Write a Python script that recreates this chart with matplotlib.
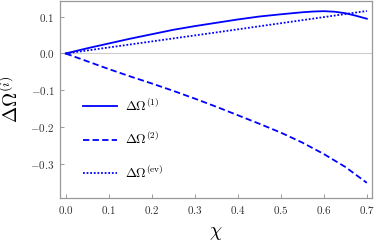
import matplotlib
matplotlib.use("Agg")
import matplotlib.pyplot as plt
from matplotlib.ticker import FuncFormatter

plt.rcParams['mathtext.fontset'] = 'cm'
plt.rcParams['font.family'] = 'DejaVu Serif'

chi = [0.0, 0.05, 0.1, 0.15, 0.2, 0.25, 0.3, 0.35, 0.4, 0.45, 0.5, 0.55, 0.575, 0.6, 0.625, 0.65, 0.675, 0.7]
d_omega_1 = [0.0, 0.014, 0.027, 0.040, 0.052, 0.064, 0.074, 0.083, 0.092, 0.100, 0.106, 0.1115, 0.1135, 0.1145, 0.113, 0.109, 0.102, 0.094]
chi_2 = [0.0, 0.05, 0.1, 0.15, 0.2, 0.25, 0.3, 0.35, 0.4, 0.45, 0.5, 0.55, 0.6, 0.65, 0.7]
d_omega_2 = [0.0, -0.021, -0.042, -0.062, -0.081, -0.101, -0.122, -0.144, -0.167, -0.190, -0.214, -0.241, -0.272, -0.307, -0.350]
chi_ev = [0.0, 0.35, 0.7]
d_omega_ev = [0.0, 0.057, 0.115]

labels = [r'$\Delta\Omega^{(1)}$', r'$\Delta\Omega^{(2)}$', r'$\Delta\Omega^{(\mathrm{ev})}$']
xticks = [0.0, 0.1, 0.2, 0.3, 0.4, 0.5, 0.6, 0.7]
yticks = [-0.3, -0.2, -0.1, 0.0, 0.1]

fig = plt.figure(figsize=(3.75, 2.44), dpi=100)
ax = fig.add_axes([60/375, 46/244, 312/375, 197/244])

col = '#0000ff'
lw = 1.3
ax.axhline(0, color='#cccccc', lw=0.8, zorder=1)
ax.plot(chi, d_omega_1, color=col, lw=lw, ls='-', label=labels[0], zorder=3)
ax.plot(chi_2, d_omega_2, color=col, lw=lw, ls=(0, (3.5, 1.8)), label=labels[1], zorder=3)
ax.plot(chi_ev, d_omega_ev, color=col, lw=lw, ls=(0, (1, 1)), label=labels[2], zorder=3)

ax.set_xlim(-0.013, 0.712)
ax.set_ylim(-0.391, 0.142)
ax.set_xticks(xticks)
ax.set_yticks(yticks)

def fmt(v, pos):
    s = f'{v:.1f}'
    if s == '-0.0':
        s = '0.0'
    return '$' + s + '$'

ax.xaxis.set_major_formatter(FuncFormatter(fmt))
ax.yaxis.set_major_formatter(FuncFormatter(fmt))

for sp in ax.spines.values():
    sp.set_color('#999999')
    sp.set_linewidth(0.9)
ax.tick_params(direction='in', length=3, width=0.7, color='#999999', labelsize=8,
               labelcolor='#333333', pad=4)

ax.set_xlabel(r'$\chi$', fontsize=14, labelpad=6)
ax.set_ylabel(r'$\Delta\Omega^{(i)}$', fontsize=14, labelpad=6)

ax.legend(loc='center left', bbox_to_anchor=(0.035, 0.30), frameon=False, fontsize=9.5,
          handlelength=2.6, handletextpad=0.6, labelspacing=1.25)

fig.savefig('out.png', dpi=100)
